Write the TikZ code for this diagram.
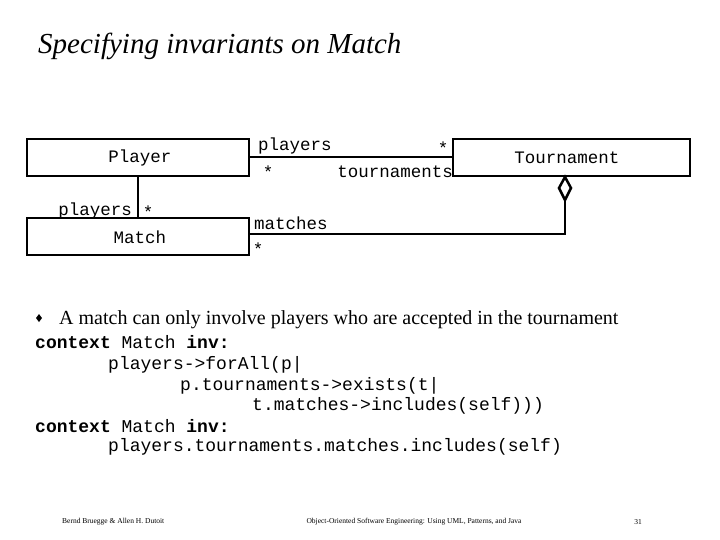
\documentclass[tikz,border=0pt]{standalone}
\usepackage{fontspec}
\setmainfont{Liberation Serif}
\setmonofont{Liberation Mono}
\begin{document}
\begin{tikzpicture}[x=1pt,y=-1pt,
  box/.style={draw,line width=2.5pt},
  conn/.style={line width=2.5pt},
  lbl/.style={font=\fontsize{17.5}{18}\ttfamily,inner sep=0pt},
  code/.style={font=\fontsize{18}{19}\ttfamily,inner sep=0pt,anchor=base west},
  foot/.style={font=\fontsize{7.5}{8}\selectfont,inner sep=0pt}]
\useasboundingbox (0,0) rectangle (720,540);
\node[anchor=base west,inner sep=0pt,font=\fontsize{29}{31}\itshape] (title) at (38,54) {Specifying invariants on Match};
\draw[box] (27,139) rectangle (249,176);
\node[lbl] (player) at (140,158) {Player};
\draw[box] (453,139) rectangle (690,176);
\node[lbl] (tour) at (567,158) {Tournament};
\draw[box] (27,218) rectangle (249,255);
\node[lbl] (match) at (140,237) {Match};
\coordinate (pr) at (249,157); \coordinate (tl) at (453,157);
\draw[conn] (pr) -- (tl);
\coordinate (pb) at (138,176); \coordinate (mt) at (138,218);
\draw[conn] (pb) -- (mt);
\coordinate (mr) at (249,234); \coordinate (dk) at (565,234); \coordinate (db) at (565,200);
\draw[conn] (mr) -- (dk) -- (db);
\draw[line width=2.5pt,fill=white] (565,177) -- (571,188) -- (565,200) -- (559,188) -- cycle;
\node[lbl,anchor=west] (l1) at (258,146) {players};
\node[lbl] (l2) at (268,172) {*};
\node[lbl] (l3) at (443,148) {*};
\node[lbl,anchor=east] (l4) at (453,172) {tournaments};
\node[lbl,anchor=east] (l5) at (132,211) {players};
\node[lbl] (l6) at (148,212) {*};
\node[lbl,anchor=west] (l7) at (254,223) {matches};
\node[lbl] (l8) at (258,249) {*};
\node[anchor=base west,inner sep=0pt,font=\fontsize{20}{22}\selectfont] (bul) at (59,324) {A match can only involve players who are accepted in the tournament};
\fill (39,314) -- (42,318) -- (39,322) -- (36,318) -- cycle;
\node[code] (c1) at (35,348) {\textbf{context} Match \textbf{inv:}};
\node[code] (c2) at (108,369) {players->forAll(p|};
\node[code] (c3) at (180,390) {p.tournaments->exists(t|};
\node[code] (c4) at (252,410) {t.matches->includes(self)))};
\node[code] (c5) at (35,432) {\textbf{context} Match \textbf{inv:}};
\node[code] (c6) at (108,451) {players.tournaments.matches.includes(self)};
\node[foot,anchor=west] (f1) at (62,522) {Bernd Bruegge \& Allen H. Dutoit};
\node[foot] (f2) at (414,522) {Object-Oriented Software Engineering: Using UML, Patterns, and Java};
\node[foot] (f3) at (638,522) {31};
\end{tikzpicture}
\end{document}
